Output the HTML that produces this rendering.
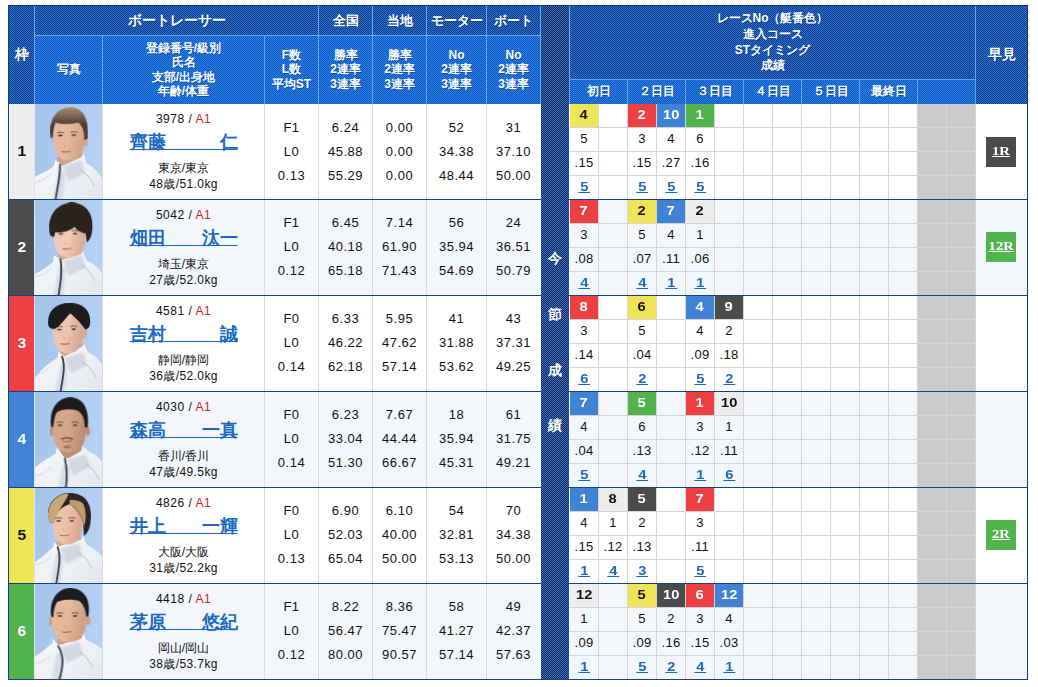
<!DOCTYPE html>
<html lang="ja"><head><meta charset="utf-8"><title>出走表</title>
<style>
html,body{margin:0;padding:0;}
body{width:1038px;height:687px;position:relative;overflow:hidden;background:#fff;
 font-family:"Liberation Sans",sans-serif;color:#111;}
#t div{position:absolute;box-sizing:border-box;}
#t .info div{position:static;}
.hd{background:conic-gradient(#05398b 25%,#3474cc 0 50%,#05398b 0 75%,#3474cc 0) 0 0/2px 2px;}
.hl{background:conic-gradient(#0b55bb 25%,#2f83ea 0 50%,#0b55bb 0 75%,#2f83ea 0) 0 0/2px 2px;}
.dk{background:conic-gradient(#042b68 25%,#3d6fb5 0 50%,#042b68 0 75%,#3d6fb5 0) 0 0/2px 2px;}
.ht{color:#fff;font-weight:bold;text-align:center;display:flex;align-items:center;justify-content:center;
 text-shadow:1px 1px 0 rgba(0,30,90,.35);}
.c{text-align:center;}
.st{text-align:center;font-size:13px;line-height:24px;padding-top:12px;letter-spacing:.5px;}
.w{display:inline-block;transform:scaleX(1.13);}
.info{text-align:center;font-size:12px;}
.info .l1{line-height:16px;padding-top:7px;letter-spacing:.5px;}
.a1{color:#cc2229;}
.info .nm{font-size:18px;font-weight:bold;line-height:24px;padding-top:3px;}
a{color:#1a6ac4;text-decoration:underline;}
.info .l3{line-height:16px;padding-top:6px;}
.info .l4{line-height:16px;letter-spacing:.4px;}
.rn{font-weight:bold;font-size:13px;line-height:21px;}
.dv{font-size:13px;line-height:21px;letter-spacing:.3px;}
.rs{font-weight:bold;font-size:13px;line-height:21px;word-spacing:-2px;}
.rs a{text-underline-offset:1px;}
.hy{font-family:"Liberation Serif",serif;font-weight:bold;font-size:13px;line-height:28px;}
.hy a{color:#fff;}
svg{display:block;}
</style></head>
<body><div id="t">
<div class="hd" style="left:8px;top:5px;width:1020px;height:99px;"></div>
<div class="hl" style="left:35px;top:36px;width:506px;height:68px;"></div>
<div class="hl" style="left:570px;top:80px;width:406px;height:24px;"></div>
<div class="dk" style="left:541px;top:5px;width:28px;height:675px;"></div>
<div style="left:34px;top:6px;width:1px;height:98px;background:#6aa3ea;"></div>
<div style="left:35px;top:35px;width:506px;height:1px;background:#6aa3ea;"></div>
<div style="left:102px;top:36px;width:1px;height:68px;background:#6aa3ea;"></div>
<div style="left:264px;top:36px;width:1px;height:68px;background:#6aa3ea;"></div>
<div style="left:318px;top:6px;width:1px;height:98px;background:#6aa3ea;"></div>
<div style="left:372px;top:6px;width:1px;height:98px;background:#6aa3ea;"></div>
<div style="left:426px;top:6px;width:1px;height:98px;background:#6aa3ea;"></div>
<div style="left:486px;top:6px;width:1px;height:98px;background:#6aa3ea;"></div>
<div style="left:540px;top:6px;width:1px;height:98px;background:#6aa3ea;"></div>
<div style="left:569px;top:6px;width:1px;height:98px;background:#6aa3ea;"></div>
<div style="left:570px;top:79px;width:406px;height:1px;background:#6aa3ea;"></div>
<div style="left:627px;top:80px;width:1px;height:24px;background:#6aa3ea;"></div>
<div style="left:685px;top:80px;width:1px;height:24px;background:#6aa3ea;"></div>
<div style="left:743px;top:80px;width:1px;height:24px;background:#6aa3ea;"></div>
<div style="left:801px;top:80px;width:1px;height:24px;background:#6aa3ea;"></div>
<div style="left:859px;top:80px;width:1px;height:24px;background:#6aa3ea;"></div>
<div style="left:917px;top:80px;width:1px;height:24px;background:#6aa3ea;"></div>
<div style="left:975px;top:80px;width:1px;height:24px;background:#6aa3ea;"></div>
<div style="left:975px;top:6px;width:1px;height:98px;background:#6aa3ea;"></div>
<div class="ht" style="left:9px;top:6px;width:25px;height:97px;font-size:14px;line-height:14.5px;"><span>枠</span></div>
<div class="ht" style="left:35px;top:5px;width:283px;height:30px;font-size:14px;line-height:14.5px;"><span>ボートレーサー</span></div>
<div class="ht" style="left:319px;top:6px;width:53px;height:30px;font-size:13px;line-height:14.5px;"><span>全国</span></div>
<div class="ht" style="left:373px;top:6px;width:53px;height:30px;font-size:13px;line-height:14.5px;"><span>当地</span></div>
<div class="ht" style="left:427px;top:6px;width:59px;height:30px;font-size:13px;line-height:14.5px;"><span>モーター</span></div>
<div class="ht" style="left:487px;top:6px;width:53px;height:30px;font-size:13px;line-height:14.5px;"><span>ボート</span></div>
<div class="ht" style="left:35px;top:36px;width:67px;height:67px;font-size:12px;line-height:14.5px;"><span>写真</span></div>
<div class="ht" style="left:103px;top:36px;width:161px;height:67px;font-size:12px;line-height:14.5px;"><span>登録番号/級別<br>氏名<br>支部/出身地<br>年齢/体重</span></div>
<div class="ht" style="left:265px;top:36px;width:53px;height:67px;font-size:12px;line-height:14.5px;"><span>F数<br>L数<br>平均ST</span></div>
<div class="ht" style="left:319px;top:36px;width:53px;height:67px;font-size:12px;line-height:14.5px;"><span>勝率<br>2連率<br>3連率</span></div>
<div class="ht" style="left:373px;top:36px;width:53px;height:67px;font-size:12px;line-height:14.5px;"><span>勝率<br>2連率<br>3連率</span></div>
<div class="ht" style="left:427px;top:36px;width:59px;height:67px;font-size:12px;line-height:14.5px;"><span>No<br>2連率<br>3連率</span></div>
<div class="ht" style="left:487px;top:36px;width:53px;height:67px;font-size:12px;line-height:14.5px;"><span>No<br>2連率<br>3連率</span></div>
<div class="ht" style="left:570px;top:6px;width:405px;height:73px;font-size:12px;line-height:15.7px;"><span>レースNo（艇番色）<br>進入コース<br>STタイミング<br>成績</span></div>
<div class="ht" style="left:570px;top:80px;width:57px;height:23px;font-size:12px;line-height:14.5px;"><span>初日</span></div>
<div class="ht" style="left:628px;top:80px;width:57px;height:23px;font-size:12px;line-height:14.5px;"><span>２日目</span></div>
<div class="ht" style="left:686px;top:80px;width:57px;height:23px;font-size:12px;line-height:14.5px;"><span>３日目</span></div>
<div class="ht" style="left:744px;top:80px;width:57px;height:23px;font-size:12px;line-height:14.5px;"><span>４日目</span></div>
<div class="ht" style="left:802px;top:80px;width:57px;height:23px;font-size:12px;line-height:14.5px;"><span>５日目</span></div>
<div class="ht" style="left:860px;top:80px;width:57px;height:23px;font-size:12px;line-height:14.5px;"><span>最終日</span></div>
<div class="ht" style="left:976px;top:6px;width:51px;height:97px;font-size:14px;line-height:14.5px;"><span>早見</span></div>
<div class="ht" style="left:541px;top:248px;width:28px;height:20px;font-size:14px;line-height:20px;"><span>今</span></div>
<div class="ht" style="left:541px;top:304px;width:28px;height:20px;font-size:14px;line-height:20px;"><span>節</span></div>
<div class="ht" style="left:541px;top:360px;width:28px;height:20px;font-size:14px;line-height:20px;"><span>成</span></div>
<div class="ht" style="left:541px;top:415px;width:28px;height:20px;font-size:14px;line-height:20px;"><span>績</span></div>
<div style="left:9px;top:104px;width:532px;height:95px;background:#fff;"></div>
<div style="left:569px;top:104px;width:458px;height:95px;background:#fff;"></div>
<div class="c" style="left:9px;top:104px;width:25px;height:95px;background:#ededed;color:#111;font-weight:bold;font-size:14px;line-height:95px;"><span class="w">1</span></div>
<div style="left:35px;top:104px;width:67px;height:95px;"><svg width="67" height="95" viewBox="0 0 67 95"><defs><linearGradient id="bg0" x1="0" y1="0" x2="1" y2="0.3"><stop offset="0" stop-color="#a3c3ea"/><stop offset="1" stop-color="#b5d0f1"/></linearGradient><linearGradient id="h0" x1="0" y1="0" x2="0" y2="1"><stop offset="0" stop-color="#a48c70"/><stop offset=".55" stop-color="#4c3b32"/></linearGradient><linearGradient id="jk0" x1="0" y1="0" x2="1" y2="1"><stop offset="0" stop-color="#f7f8fb"/><stop offset=".6" stop-color="#eef0f5"/><stop offset="1" stop-color="#dfe3ec"/></linearGradient><linearGradient id="fc0" x1="0" y1="0" x2="1" y2="0.25"><stop offset="0" stop-color="#e5baa0"/><stop offset=".55" stop-color="#e5baa0"/><stop offset="1" stop-color="#d3a386"/></linearGradient><filter id="bl0" x="-5%" y="-5%" width="110%" height="110%"><feGaussianBlur stdDeviation="3.4"/></filter><filter id="bs0" x="-20%" y="-20%" width="140%" height="140%"><feGaussianBlur stdDeviation="9"/></filter></defs><rect width="67" height="95" fill="url(#bg0)"/><g transform="translate(-1,-1) scale(0.14265)"><g filter="url(#bl0)"><polygon points="180,330 335,330 338,392 200,447 158,402" fill="#d3a386"/><path d="M0,520 C60,492 110,470 140,440 L150,398 L200,440 L330,380 L350,358 L366,420 C420,450 470,500 491,560 L491,687 L0,687 Z" fill="url(#jk0)"/></g><g filter="url(#bs0)" opacity=".55"><path d="M202,442 L332,402 L357,492 L242,552 Z" fill="#bcc3d3"/><path d="M172,472 L222,492 L202,687 L132,687 Z" fill="#c6ccda"/></g><g filter="url(#bl0)"><path d="M332,472 q60,40 90,110" stroke="#9aa1b2" stroke-width="5" fill="none" opacity=".8"/><path d="M10,557 q60,-10 110,-60" stroke="#aab0c0" stroke-width="4" fill="none" opacity=".7"/><path d="M182,432 C186,520 160,600 150,687" stroke="#39424f" stroke-width="13" fill="none" stroke-linecap="round"/><ellipse cx="362" cy="272" rx="15" ry="30" fill="#d3a386"/><path d="M133,222 C133,62 357,62 357,222 C357,360 312,402 245,402 C178,402 133,360 133,222 Z" fill="url(#fc0)"/><path d="M118,242 C100,120 150,35 250,30 C340,28 388,100 376,252 L350,258 C356,200 340,160 310,138 C260,150 185,150 152,138 C135,170 135,210 130,246 Z" fill="url(#h0)"/><ellipse cx="185" cy="228" rx="17" ry="5.5" fill="#2a1d18" opacity=".9"/><path d="M161,209 Q185,200 209,209" stroke="#3a2a22" stroke-width="7" fill="none" opacity=".7"/><ellipse cx="278" cy="225" rx="17" ry="5.5" fill="#2a1d18" opacity=".9"/><path d="M254,206 Q278,197 302,206" stroke="#3a2a22" stroke-width="7" fill="none" opacity=".7"/><path d="M192,340 Q222,348 256,338" stroke="#b2604f" stroke-width="8" fill="none" opacity=".9"/><path d="M214,292 q-6,14 10,16" stroke="#d3a386" stroke-width="8" fill="none"/></g></g></svg></div>
<div class="info" style="left:103px;top:104px;width:161px;height:95px;"><div class="l1">3978 / <span class="a1">A1</span></div><div class="nm"><a>齊藤　　　仁</a></div><div class="l3">東京/東京</div><div class="l4">48歳/51.0kg</div></div>
<div class="st" style="left:265px;top:104px;width:53px;height:95px;">F1<br>L0<br>0.13</div>
<div class="st" style="left:319px;top:104px;width:53px;height:95px;">6.24<br>45.88<br>55.29</div>
<div class="st" style="left:373px;top:104px;width:53px;height:95px;">0.00<br>0.00<br>0.00</div>
<div class="st" style="left:427px;top:104px;width:59px;height:95px;">52<br>34.38<br>48.44</div>
<div class="st" style="left:487px;top:104px;width:53px;height:95px;">31<br>37.10<br>50.00</div>
<div style="left:102px;top:104px;width:1px;height:95px;background:#d5dae3;"></div>
<div style="left:264px;top:104px;width:1px;height:95px;background:#d5dae3;"></div>
<div style="left:318px;top:104px;width:1px;height:95px;background:#d5dae3;"></div>
<div style="left:372px;top:104px;width:1px;height:95px;background:#d5dae3;"></div>
<div style="left:426px;top:104px;width:1px;height:95px;background:#d5dae3;"></div>
<div style="left:486px;top:104px;width:1px;height:95px;background:#d5dae3;"></div>
<div style="left:34px;top:104px;width:1px;height:95px;background:#e2e4e8;"></div>
<div style="left:918px;top:104px;width:58px;height:95px;background:#cbcbcb;"></div>
<div style="left:570px;top:127px;width:406px;height:1px;background:#d4d4d4;"></div>
<div style="left:570px;top:151px;width:406px;height:1px;background:#d4d4d4;"></div>
<div style="left:570px;top:175px;width:406px;height:1px;background:#d4d4d4;"></div>
<div style="left:598px;top:104px;width:1px;height:95px;background:#d4d4d4;"></div>
<div style="left:627px;top:104px;width:1px;height:95px;background:#d4d4d4;"></div>
<div style="left:656px;top:104px;width:1px;height:95px;background:#d4d4d4;"></div>
<div style="left:685px;top:104px;width:1px;height:95px;background:#d4d4d4;"></div>
<div style="left:714px;top:104px;width:1px;height:95px;background:#d4d4d4;"></div>
<div style="left:743px;top:104px;width:1px;height:95px;background:#d4d4d4;"></div>
<div style="left:772px;top:104px;width:1px;height:95px;background:#d4d4d4;"></div>
<div style="left:801px;top:104px;width:1px;height:95px;background:#d4d4d4;"></div>
<div style="left:830px;top:104px;width:1px;height:95px;background:#d4d4d4;"></div>
<div style="left:859px;top:104px;width:1px;height:95px;background:#d4d4d4;"></div>
<div style="left:888px;top:104px;width:1px;height:95px;background:#d4d4d4;"></div>
<div style="left:917px;top:104px;width:1px;height:95px;background:#d4d4d4;"></div>
<div style="left:946px;top:104px;width:1px;height:95px;background:#d4d4d4;"></div>
<div style="left:975px;top:104px;width:1px;height:95px;background:#d4d4d4;"></div>
<div class="c rn" style="left:570px;top:104px;width:28px;height:23px;background:#efe455;color:#111;"><span class="w">4</span></div>
<div class="c dv" style="left:570px;top:128px;width:28px;height:23px;">5</div>
<div class="c dv" style="left:570px;top:152px;width:28px;height:23px;">.15</div>
<div class="c rs" style="left:570px;top:176px;width:28px;height:23px;"><a class="w">&nbsp;5&nbsp;</a></div>
<div class="c rn" style="left:628px;top:104px;width:28px;height:23px;background:#ee4043;color:#fff;"><span class="w">2</span></div>
<div class="c dv" style="left:628px;top:128px;width:28px;height:23px;">3</div>
<div class="c dv" style="left:628px;top:152px;width:28px;height:23px;">.15</div>
<div class="c rs" style="left:628px;top:176px;width:28px;height:23px;"><a class="w">&nbsp;5&nbsp;</a></div>
<div class="c rn" style="left:657px;top:104px;width:28px;height:23px;background:#4082d3;color:#fff;"><span class="w">10</span></div>
<div class="c dv" style="left:657px;top:128px;width:28px;height:23px;">4</div>
<div class="c dv" style="left:657px;top:152px;width:28px;height:23px;">.27</div>
<div class="c rs" style="left:657px;top:176px;width:28px;height:23px;"><a class="w">&nbsp;5&nbsp;</a></div>
<div class="c rn" style="left:686px;top:104px;width:28px;height:23px;background:#52b44c;color:#fff;"><span class="w">1</span></div>
<div class="c dv" style="left:686px;top:128px;width:28px;height:23px;">6</div>
<div class="c dv" style="left:686px;top:152px;width:28px;height:23px;">.16</div>
<div class="c rs" style="left:686px;top:176px;width:28px;height:23px;"><a class="w">&nbsp;5&nbsp;</a></div>
<div class="c hy" style="left:986px;top:137px;width:30px;height:30px;background:#4b4b4b;"><a class="w">1R</a></div>
<div style="left:9px;top:199px;width:532px;height:1px;background:#17437c;"></div>
<div style="left:569px;top:199px;width:458px;height:1px;background:#17437c;"></div>
<div style="left:9px;top:200px;width:532px;height:95px;background:#f3f7fc;"></div>
<div style="left:569px;top:200px;width:458px;height:95px;background:#f3f7fc;"></div>
<div class="c" style="left:9px;top:200px;width:25px;height:95px;background:#4b4b4b;color:#fff;font-weight:bold;font-size:14px;line-height:95px;"><span class="w">2</span></div>
<div style="left:35px;top:200px;width:67px;height:95px;"><svg width="67" height="95" viewBox="0 0 67 95"><defs><linearGradient id="bg1" x1="0" y1="0" x2="1" y2="0.3"><stop offset="0" stop-color="#a3c3ea"/><stop offset="1" stop-color="#b5d0f1"/></linearGradient><linearGradient id="jk1" x1="0" y1="0" x2="1" y2="1"><stop offset="0" stop-color="#f7f8fb"/><stop offset=".6" stop-color="#eef0f5"/><stop offset="1" stop-color="#dfe3ec"/></linearGradient><linearGradient id="fc1" x1="0" y1="0" x2="1" y2="0.25"><stop offset="0" stop-color="#efcab4"/><stop offset=".55" stop-color="#efcab4"/><stop offset="1" stop-color="#dcae95"/></linearGradient><filter id="bl1" x="-5%" y="-5%" width="110%" height="110%"><feGaussianBlur stdDeviation="3.4"/></filter><filter id="bs1" x="-20%" y="-20%" width="140%" height="140%"><feGaussianBlur stdDeviation="9"/></filter></defs><rect width="67" height="95" fill="url(#bg1)"/><g transform="translate(-1,-1) scale(0.14265)"><g filter="url(#bl1)"><polygon points="190,360 330,360 332,402 215,442 168,402" fill="#dcae95"/><path d="M0,530 C60,500 100,470 135,440 L140,395 L195,427 L330,385 L346,368 L366,430 C420,450 470,500 491,540 L491,687 L0,687 Z" fill="url(#jk1)"/></g><g filter="url(#bs1)" opacity=".55"><path d="M205,432 L335,392 L360,482 L245,542 Z" fill="#bcc3d3"/><path d="M175,462 L225,482 L205,687 L135,687 Z" fill="#c6ccda"/></g><g filter="url(#bl1)"><path d="M335,462 q60,40 90,110" stroke="#9aa1b2" stroke-width="5" fill="none" opacity=".8"/><path d="M10,547 q60,-10 110,-60" stroke="#aab0c0" stroke-width="4" fill="none" opacity=".7"/><path d="M185,422 C202,500 186,600 170,687" stroke="#39424f" stroke-width="13" fill="none" stroke-linecap="round"/><path d="M140,257 C140,123 360,123 360,257 C360,372 316,407 250,407 C184,407 140,372 140,257 Z" fill="url(#fc1)"/><path d="M112,252 C92,150 128,40 262,24 C384,30 424,130 406,232 C400,272 386,292 370,302 L362,242 C330,236 300,216 285,195 C250,226 190,238 150,232 L140,268 C130,264 118,260 112,252 Z" fill="#2b201d"/><ellipse cx="188" cy="245" rx="17" ry="5.5" fill="#2a1d18" opacity=".9"/><path d="M164,226 Q188,217 212,226" stroke="#3a2a22" stroke-width="7" fill="none" opacity=".7"/><ellipse cx="288" cy="243" rx="17" ry="5.5" fill="#2a1d18" opacity=".9"/><path d="M264,224 Q288,215 312,224" stroke="#3a2a22" stroke-width="7" fill="none" opacity=".7"/><path d="M200,347 Q230,355 264,345" stroke="#b2604f" stroke-width="8" fill="none" opacity=".9"/><path d="M222,299 q-6,14 10,16" stroke="#dcae95" stroke-width="8" fill="none"/></g></g></svg></div>
<div class="info" style="left:103px;top:200px;width:161px;height:95px;"><div class="l1">5042 / <span class="a1">A1</span></div><div class="nm"><a>畑田　　汰一</a></div><div class="l3">埼玉/東京</div><div class="l4">27歳/52.0kg</div></div>
<div class="st" style="left:265px;top:200px;width:53px;height:95px;padding-top:11px;">F1<br>L0<br>0.12</div>
<div class="st" style="left:319px;top:200px;width:53px;height:95px;padding-top:11px;">6.45<br>40.18<br>65.18</div>
<div class="st" style="left:373px;top:200px;width:53px;height:95px;padding-top:11px;">7.14<br>61.90<br>71.43</div>
<div class="st" style="left:427px;top:200px;width:59px;height:95px;padding-top:11px;">56<br>35.94<br>54.69</div>
<div class="st" style="left:487px;top:200px;width:53px;height:95px;padding-top:11px;">24<br>36.51<br>50.79</div>
<div style="left:102px;top:200px;width:1px;height:95px;background:#d5dae3;"></div>
<div style="left:264px;top:200px;width:1px;height:95px;background:#d5dae3;"></div>
<div style="left:318px;top:200px;width:1px;height:95px;background:#d5dae3;"></div>
<div style="left:372px;top:200px;width:1px;height:95px;background:#d5dae3;"></div>
<div style="left:426px;top:200px;width:1px;height:95px;background:#d5dae3;"></div>
<div style="left:486px;top:200px;width:1px;height:95px;background:#d5dae3;"></div>
<div style="left:34px;top:200px;width:1px;height:95px;background:#dbe6f4;"></div>
<div style="left:918px;top:200px;width:58px;height:95px;background:#cbcbcb;"></div>
<div style="left:570px;top:223px;width:406px;height:1px;background:#d4d4d4;"></div>
<div style="left:570px;top:247px;width:406px;height:1px;background:#d4d4d4;"></div>
<div style="left:570px;top:271px;width:406px;height:1px;background:#d4d4d4;"></div>
<div style="left:598px;top:200px;width:1px;height:95px;background:#d4d4d4;"></div>
<div style="left:627px;top:200px;width:1px;height:95px;background:#d4d4d4;"></div>
<div style="left:656px;top:200px;width:1px;height:95px;background:#d4d4d4;"></div>
<div style="left:685px;top:200px;width:1px;height:95px;background:#d4d4d4;"></div>
<div style="left:714px;top:200px;width:1px;height:95px;background:#d4d4d4;"></div>
<div style="left:743px;top:200px;width:1px;height:95px;background:#d4d4d4;"></div>
<div style="left:772px;top:200px;width:1px;height:95px;background:#d4d4d4;"></div>
<div style="left:801px;top:200px;width:1px;height:95px;background:#d4d4d4;"></div>
<div style="left:830px;top:200px;width:1px;height:95px;background:#d4d4d4;"></div>
<div style="left:859px;top:200px;width:1px;height:95px;background:#d4d4d4;"></div>
<div style="left:888px;top:200px;width:1px;height:95px;background:#d4d4d4;"></div>
<div style="left:917px;top:200px;width:1px;height:95px;background:#d4d4d4;"></div>
<div style="left:946px;top:200px;width:1px;height:95px;background:#d4d4d4;"></div>
<div style="left:975px;top:200px;width:1px;height:95px;background:#d4d4d4;"></div>
<div class="c rn" style="left:570px;top:200px;width:28px;height:23px;background:#ee4043;color:#fff;"><span class="w">7</span></div>
<div class="c dv" style="left:570px;top:224px;width:28px;height:23px;">3</div>
<div class="c dv" style="left:570px;top:248px;width:28px;height:23px;">.08</div>
<div class="c rs" style="left:570px;top:272px;width:28px;height:23px;"><a class="w">&nbsp;4&nbsp;</a></div>
<div class="c rn" style="left:628px;top:200px;width:28px;height:23px;background:#efe455;color:#111;"><span class="w">2</span></div>
<div class="c dv" style="left:628px;top:224px;width:28px;height:23px;">5</div>
<div class="c dv" style="left:628px;top:248px;width:28px;height:23px;">.07</div>
<div class="c rs" style="left:628px;top:272px;width:28px;height:23px;"><a class="w">&nbsp;4&nbsp;</a></div>
<div class="c rn" style="left:657px;top:200px;width:28px;height:23px;background:#4082d3;color:#fff;"><span class="w">7</span></div>
<div class="c dv" style="left:657px;top:224px;width:28px;height:23px;">4</div>
<div class="c dv" style="left:657px;top:248px;width:28px;height:23px;">.11</div>
<div class="c rs" style="left:657px;top:272px;width:28px;height:23px;"><a class="w">&nbsp;1&nbsp;</a></div>
<div class="c rn" style="left:686px;top:200px;width:28px;height:23px;background:#ededed;color:#111;"><span class="w">2</span></div>
<div class="c dv" style="left:686px;top:224px;width:28px;height:23px;">1</div>
<div class="c dv" style="left:686px;top:248px;width:28px;height:23px;">.06</div>
<div class="c rs" style="left:686px;top:272px;width:28px;height:23px;"><a class="w">&nbsp;1&nbsp;</a></div>
<div class="c hy" style="left:986px;top:232px;width:30px;height:30px;background:#52b44c;"><a class="w">12R</a></div>
<div style="left:9px;top:295px;width:532px;height:1px;background:#17437c;"></div>
<div style="left:569px;top:295px;width:458px;height:1px;background:#17437c;"></div>
<div style="left:9px;top:296px;width:532px;height:95px;background:#fff;"></div>
<div style="left:569px;top:296px;width:458px;height:95px;background:#fff;"></div>
<div class="c" style="left:9px;top:296px;width:25px;height:95px;background:#ee4043;color:#fff;font-weight:bold;font-size:14px;line-height:95px;"><span class="w">3</span></div>
<div style="left:35px;top:296px;width:67px;height:95px;"><svg width="67" height="95" viewBox="0 0 67 95"><defs><linearGradient id="bg2" x1="0" y1="0" x2="1" y2="0.3"><stop offset="0" stop-color="#a3c3ea"/><stop offset="1" stop-color="#b5d0f1"/></linearGradient><linearGradient id="jk2" x1="0" y1="0" x2="1" y2="1"><stop offset="0" stop-color="#f7f8fb"/><stop offset=".6" stop-color="#eef0f5"/><stop offset="1" stop-color="#dfe3ec"/></linearGradient><linearGradient id="fc2" x1="0" y1="0" x2="1" y2="0.25"><stop offset="0" stop-color="#ebc5b0"/><stop offset=".55" stop-color="#ebc5b0"/><stop offset="1" stop-color="#d8a992"/></linearGradient><filter id="bl2" x="-5%" y="-5%" width="110%" height="110%"><feGaussianBlur stdDeviation="3.4"/></filter><filter id="bs2" x="-20%" y="-20%" width="140%" height="140%"><feGaussianBlur stdDeviation="9"/></filter></defs><rect width="67" height="95" fill="url(#bg2)"/><g transform="translate(-1,-1) scale(0.14265)"><g filter="url(#bl2)"><polygon points="200,350 340,330 346,372 230,442 184,412" fill="#d8a992"/><path d="M0,590 C40,530 100,480 165,440 L170,398 L215,432 L340,360 L353,343 L376,400 C430,420 476,470 491,520 L491,687 L0,687 Z" fill="url(#jk2)"/></g><g filter="url(#bs2)" opacity=".55"><path d="M216,442 L346,402 L371,492 L256,552 Z" fill="#bcc3d3"/><path d="M186,472 L236,492 L216,687 L146,687 Z" fill="#c6ccda"/></g><g filter="url(#bl2)"><path d="M346,472 q60,40 90,110" stroke="#9aa1b2" stroke-width="5" fill="none" opacity=".8"/><path d="M10,557 q60,-10 110,-60" stroke="#aab0c0" stroke-width="4" fill="none" opacity=".7"/><path d="M196,432 C226,500 196,600 185,687" stroke="#39424f" stroke-width="13" fill="none" stroke-linecap="round"/><ellipse cx="356" cy="272" rx="15" ry="30" fill="#d8a992"/><path d="M132,233 C132,77 348,77 348,233 C348,367 305,408 240,408 C175,408 132,367 132,233 Z" fill="url(#fc2)"/><path d="M100,212 C88,110 160,54 250,58 C342,54 402,110 393,200 C391,226 376,238 360,242 C332,200 292,160 256,128 C226,150 200,200 150,236 C124,242 104,232 100,212 Z" fill="#1e1b1d"/><ellipse cx="178" cy="243" rx="17" ry="5.5" fill="#2a1d18" opacity=".9"/><path d="M154,224 Q178,215 202,224" stroke="#3a2a22" stroke-width="7" fill="none" opacity=".7"/><ellipse cx="278" cy="240" rx="17" ry="5.5" fill="#2a1d18" opacity=".9"/><path d="M254,221 Q278,212 302,221" stroke="#3a2a22" stroke-width="7" fill="none" opacity=".7"/><path d="M186,342 Q216,350 250,340" stroke="#b2604f" stroke-width="8" fill="none" opacity=".9"/><path d="M208,294 q-6,14 10,16" stroke="#d8a992" stroke-width="8" fill="none"/></g></g></svg></div>
<div class="info" style="left:103px;top:296px;width:161px;height:95px;"><div class="l1">4581 / <span class="a1">A1</span></div><div class="nm"><a>吉村　　　誠</a></div><div class="l3">静岡/静岡</div><div class="l4">36歳/52.0kg</div></div>
<div class="st" style="left:265px;top:296px;width:53px;height:95px;padding-top:11px;">F0<br>L0<br>0.14</div>
<div class="st" style="left:319px;top:296px;width:53px;height:95px;padding-top:11px;">6.33<br>46.22<br>62.18</div>
<div class="st" style="left:373px;top:296px;width:53px;height:95px;padding-top:11px;">5.95<br>47.62<br>57.14</div>
<div class="st" style="left:427px;top:296px;width:59px;height:95px;padding-top:11px;">41<br>31.88<br>53.62</div>
<div class="st" style="left:487px;top:296px;width:53px;height:95px;padding-top:11px;">43<br>37.31<br>49.25</div>
<div style="left:102px;top:296px;width:1px;height:95px;background:#d5dae3;"></div>
<div style="left:264px;top:296px;width:1px;height:95px;background:#d5dae3;"></div>
<div style="left:318px;top:296px;width:1px;height:95px;background:#d5dae3;"></div>
<div style="left:372px;top:296px;width:1px;height:95px;background:#d5dae3;"></div>
<div style="left:426px;top:296px;width:1px;height:95px;background:#d5dae3;"></div>
<div style="left:486px;top:296px;width:1px;height:95px;background:#d5dae3;"></div>
<div style="left:34px;top:296px;width:1px;height:95px;background:#dbe6f4;"></div>
<div style="left:918px;top:296px;width:58px;height:95px;background:#cbcbcb;"></div>
<div style="left:570px;top:319px;width:406px;height:1px;background:#d4d4d4;"></div>
<div style="left:570px;top:343px;width:406px;height:1px;background:#d4d4d4;"></div>
<div style="left:570px;top:367px;width:406px;height:1px;background:#d4d4d4;"></div>
<div style="left:598px;top:296px;width:1px;height:95px;background:#d4d4d4;"></div>
<div style="left:627px;top:296px;width:1px;height:95px;background:#d4d4d4;"></div>
<div style="left:656px;top:296px;width:1px;height:95px;background:#d4d4d4;"></div>
<div style="left:685px;top:296px;width:1px;height:95px;background:#d4d4d4;"></div>
<div style="left:714px;top:296px;width:1px;height:95px;background:#d4d4d4;"></div>
<div style="left:743px;top:296px;width:1px;height:95px;background:#d4d4d4;"></div>
<div style="left:772px;top:296px;width:1px;height:95px;background:#d4d4d4;"></div>
<div style="left:801px;top:296px;width:1px;height:95px;background:#d4d4d4;"></div>
<div style="left:830px;top:296px;width:1px;height:95px;background:#d4d4d4;"></div>
<div style="left:859px;top:296px;width:1px;height:95px;background:#d4d4d4;"></div>
<div style="left:888px;top:296px;width:1px;height:95px;background:#d4d4d4;"></div>
<div style="left:917px;top:296px;width:1px;height:95px;background:#d4d4d4;"></div>
<div style="left:946px;top:296px;width:1px;height:95px;background:#d4d4d4;"></div>
<div style="left:975px;top:296px;width:1px;height:95px;background:#d4d4d4;"></div>
<div class="c rn" style="left:570px;top:296px;width:28px;height:23px;background:#ee4043;color:#fff;"><span class="w">8</span></div>
<div class="c dv" style="left:570px;top:320px;width:28px;height:23px;">3</div>
<div class="c dv" style="left:570px;top:344px;width:28px;height:23px;">.14</div>
<div class="c rs" style="left:570px;top:368px;width:28px;height:23px;"><a class="w">&nbsp;6&nbsp;</a></div>
<div class="c rn" style="left:628px;top:296px;width:28px;height:23px;background:#efe455;color:#111;"><span class="w">6</span></div>
<div class="c dv" style="left:628px;top:320px;width:28px;height:23px;">5</div>
<div class="c dv" style="left:628px;top:344px;width:28px;height:23px;">.04</div>
<div class="c rs" style="left:628px;top:368px;width:28px;height:23px;"><a class="w">&nbsp;2&nbsp;</a></div>
<div class="c rn" style="left:686px;top:296px;width:28px;height:23px;background:#4082d3;color:#fff;"><span class="w">4</span></div>
<div class="c dv" style="left:686px;top:320px;width:28px;height:23px;">4</div>
<div class="c dv" style="left:686px;top:344px;width:28px;height:23px;">.09</div>
<div class="c rs" style="left:686px;top:368px;width:28px;height:23px;"><a class="w">&nbsp;5&nbsp;</a></div>
<div class="c rn" style="left:715px;top:296px;width:28px;height:23px;background:#4b4b4b;color:#fff;"><span class="w">9</span></div>
<div class="c dv" style="left:715px;top:320px;width:28px;height:23px;">2</div>
<div class="c dv" style="left:715px;top:344px;width:28px;height:23px;">.18</div>
<div class="c rs" style="left:715px;top:368px;width:28px;height:23px;"><a class="w">&nbsp;2&nbsp;</a></div>
<div style="left:9px;top:391px;width:532px;height:1px;background:#17437c;"></div>
<div style="left:569px;top:391px;width:458px;height:1px;background:#17437c;"></div>
<div style="left:9px;top:392px;width:532px;height:95px;background:#f3f7fc;"></div>
<div style="left:569px;top:392px;width:458px;height:95px;background:#f3f7fc;"></div>
<div class="c" style="left:9px;top:392px;width:25px;height:95px;background:#4082d3;color:#fff;font-weight:bold;font-size:14px;line-height:95px;"><span class="w">4</span></div>
<div style="left:35px;top:392px;width:67px;height:95px;"><svg width="67" height="95" viewBox="0 0 67 95"><defs><linearGradient id="bg3" x1="0" y1="0" x2="1" y2="0.3"><stop offset="0" stop-color="#a3c3ea"/><stop offset="1" stop-color="#b5d0f1"/></linearGradient><linearGradient id="jk3" x1="0" y1="0" x2="1" y2="1"><stop offset="0" stop-color="#f7f8fb"/><stop offset=".6" stop-color="#eef0f5"/><stop offset="1" stop-color="#dfe3ec"/></linearGradient><linearGradient id="fc3" x1="0" y1="0" x2="1" y2="0.25"><stop offset="0" stop-color="#d4a78c"/><stop offset=".55" stop-color="#d4a78c"/><stop offset="1" stop-color="#bd8e72"/></linearGradient><filter id="bl3" x="-5%" y="-5%" width="110%" height="110%"><feGaussianBlur stdDeviation="3.4"/></filter><filter id="bs3" x="-20%" y="-20%" width="140%" height="140%"><feGaussianBlur stdDeviation="9"/></filter></defs><rect width="67" height="95" fill="url(#bg3)"/><g transform="translate(-1,-1) scale(0.14265)"><g filter="url(#bl3)"><polygon points="180,400 332,400 332,442 240,482 188,452" fill="#bd8e72"/><path d="M0,540 C50,500 100,470 150,440 L160,398 L215,466 L240,472 L330,420 L346,383 L376,420 C430,440 476,480 491,520 L491,687 L0,687 Z" fill="url(#jk3)"/></g><g filter="url(#bs3)" opacity=".55"><path d="M236,482 L366,442 L391,532 L276,592 Z" fill="#bcc3d3"/><path d="M206,512 L256,532 L236,687 L166,687 Z" fill="#c6ccda"/></g><g filter="url(#bl3)"><path d="M366,512 q60,40 90,110" stroke="#9aa1b2" stroke-width="5" fill="none" opacity=".8"/><path d="M10,597 q60,-10 110,-60" stroke="#aab0c0" stroke-width="4" fill="none" opacity=".7"/><path d="M216,472 C232,540 232,620 222,687" stroke="#39424f" stroke-width="13" fill="none" stroke-linecap="round"/><ellipse cx="124" cy="284" rx="15" ry="30" fill="#bd8e72"/><ellipse cx="377" cy="284" rx="15" ry="30" fill="#bd8e72"/><path d="M130,240 C130,71 366,71 366,240 C366,386 319,430 248,430 C177,430 130,386 130,240 Z" fill="url(#fc3)"/><path d="M120,252 C104,130 160,50 250,44 C342,44 392,120 376,258 L356,252 C356,195 338,152 300,136 C250,122 190,126 160,150 C142,180 140,215 135,252 Z" fill="#1f1b1a"/><path d="M190,338 Q230,318 272,338" stroke="#4a3328" stroke-width="12" fill="none" opacity=".75"/><ellipse cx="232" cy="392" rx="26" ry="12" fill="#5a4236" opacity=".45"/><ellipse cx="183" cy="240" rx="17" ry="5.5" fill="#2a1d18" opacity=".9"/><path d="M159,221 Q183,212 207,221" stroke="#3a2a22" stroke-width="7" fill="none" opacity=".7"/><ellipse cx="288" cy="240" rx="17" ry="5.5" fill="#2a1d18" opacity=".9"/><path d="M264,221 Q288,212 312,221" stroke="#3a2a22" stroke-width="7" fill="none" opacity=".7"/><path d="M200,352 Q230,360 264,350" stroke="#b2604f" stroke-width="8" fill="none" opacity=".9"/><path d="M222,304 q-6,14 10,16" stroke="#bd8e72" stroke-width="8" fill="none"/></g></g></svg></div>
<div class="info" style="left:103px;top:392px;width:161px;height:95px;"><div class="l1">4030 / <span class="a1">A1</span></div><div class="nm"><a>森高　　一真</a></div><div class="l3">香川/香川</div><div class="l4">47歳/49.5kg</div></div>
<div class="st" style="left:265px;top:392px;width:53px;height:95px;padding-top:11px;">F0<br>L0<br>0.14</div>
<div class="st" style="left:319px;top:392px;width:53px;height:95px;padding-top:11px;">6.23<br>33.04<br>51.30</div>
<div class="st" style="left:373px;top:392px;width:53px;height:95px;padding-top:11px;">7.67<br>44.44<br>66.67</div>
<div class="st" style="left:427px;top:392px;width:59px;height:95px;padding-top:11px;">18<br>35.94<br>45.31</div>
<div class="st" style="left:487px;top:392px;width:53px;height:95px;padding-top:11px;">61<br>31.75<br>49.21</div>
<div style="left:102px;top:392px;width:1px;height:95px;background:#d5dae3;"></div>
<div style="left:264px;top:392px;width:1px;height:95px;background:#d5dae3;"></div>
<div style="left:318px;top:392px;width:1px;height:95px;background:#d5dae3;"></div>
<div style="left:372px;top:392px;width:1px;height:95px;background:#d5dae3;"></div>
<div style="left:426px;top:392px;width:1px;height:95px;background:#d5dae3;"></div>
<div style="left:486px;top:392px;width:1px;height:95px;background:#d5dae3;"></div>
<div style="left:34px;top:392px;width:1px;height:95px;background:#dbe6f4;"></div>
<div style="left:918px;top:392px;width:58px;height:95px;background:#cbcbcb;"></div>
<div style="left:570px;top:415px;width:406px;height:1px;background:#d4d4d4;"></div>
<div style="left:570px;top:439px;width:406px;height:1px;background:#d4d4d4;"></div>
<div style="left:570px;top:463px;width:406px;height:1px;background:#d4d4d4;"></div>
<div style="left:598px;top:392px;width:1px;height:95px;background:#d4d4d4;"></div>
<div style="left:627px;top:392px;width:1px;height:95px;background:#d4d4d4;"></div>
<div style="left:656px;top:392px;width:1px;height:95px;background:#d4d4d4;"></div>
<div style="left:685px;top:392px;width:1px;height:95px;background:#d4d4d4;"></div>
<div style="left:714px;top:392px;width:1px;height:95px;background:#d4d4d4;"></div>
<div style="left:743px;top:392px;width:1px;height:95px;background:#d4d4d4;"></div>
<div style="left:772px;top:392px;width:1px;height:95px;background:#d4d4d4;"></div>
<div style="left:801px;top:392px;width:1px;height:95px;background:#d4d4d4;"></div>
<div style="left:830px;top:392px;width:1px;height:95px;background:#d4d4d4;"></div>
<div style="left:859px;top:392px;width:1px;height:95px;background:#d4d4d4;"></div>
<div style="left:888px;top:392px;width:1px;height:95px;background:#d4d4d4;"></div>
<div style="left:917px;top:392px;width:1px;height:95px;background:#d4d4d4;"></div>
<div style="left:946px;top:392px;width:1px;height:95px;background:#d4d4d4;"></div>
<div style="left:975px;top:392px;width:1px;height:95px;background:#d4d4d4;"></div>
<div class="c rn" style="left:570px;top:392px;width:28px;height:23px;background:#4082d3;color:#fff;"><span class="w">7</span></div>
<div class="c dv" style="left:570px;top:416px;width:28px;height:23px;">4</div>
<div class="c dv" style="left:570px;top:440px;width:28px;height:23px;">.04</div>
<div class="c rs" style="left:570px;top:464px;width:28px;height:23px;"><a class="w">&nbsp;5&nbsp;</a></div>
<div class="c rn" style="left:628px;top:392px;width:28px;height:23px;background:#52b44c;color:#fff;"><span class="w">5</span></div>
<div class="c dv" style="left:628px;top:416px;width:28px;height:23px;">6</div>
<div class="c dv" style="left:628px;top:440px;width:28px;height:23px;">.13</div>
<div class="c rs" style="left:628px;top:464px;width:28px;height:23px;"><a class="w">&nbsp;4&nbsp;</a></div>
<div class="c rn" style="left:686px;top:392px;width:28px;height:23px;background:#ee4043;color:#fff;"><span class="w">1</span></div>
<div class="c dv" style="left:686px;top:416px;width:28px;height:23px;">3</div>
<div class="c dv" style="left:686px;top:440px;width:28px;height:23px;">.12</div>
<div class="c rs" style="left:686px;top:464px;width:28px;height:23px;"><a class="w">&nbsp;1&nbsp;</a></div>
<div class="c rn" style="left:715px;top:392px;width:28px;height:23px;background:#ededed;color:#111;"><span class="w">10</span></div>
<div class="c dv" style="left:715px;top:416px;width:28px;height:23px;">1</div>
<div class="c dv" style="left:715px;top:440px;width:28px;height:23px;">.11</div>
<div class="c rs" style="left:715px;top:464px;width:28px;height:23px;"><a class="w">&nbsp;6&nbsp;</a></div>
<div style="left:9px;top:487px;width:532px;height:1px;background:#17437c;"></div>
<div style="left:569px;top:487px;width:458px;height:1px;background:#17437c;"></div>
<div style="left:9px;top:488px;width:532px;height:95px;background:#fff;"></div>
<div style="left:569px;top:488px;width:458px;height:95px;background:#fff;"></div>
<div class="c" style="left:9px;top:488px;width:25px;height:95px;background:#efe455;color:#111;font-weight:bold;font-size:14px;line-height:95px;"><span class="w">5</span></div>
<div style="left:35px;top:488px;width:67px;height:95px;"><svg width="67" height="95" viewBox="0 0 67 95"><defs><linearGradient id="bg4" x1="0" y1="0" x2="1" y2="0.3"><stop offset="0" stop-color="#a3c3ea"/><stop offset="1" stop-color="#b5d0f1"/></linearGradient><linearGradient id="jk4" x1="0" y1="0" x2="1" y2="1"><stop offset="0" stop-color="#f7f8fb"/><stop offset=".6" stop-color="#eef0f5"/><stop offset="1" stop-color="#dfe3ec"/></linearGradient><linearGradient id="fc4" x1="0" y1="0" x2="1" y2="0.25"><stop offset="0" stop-color="#eec3ab"/><stop offset=".55" stop-color="#eec3ab"/><stop offset="1" stop-color="#dba68c"/></linearGradient><filter id="bl4" x="-5%" y="-5%" width="110%" height="110%"><feGaussianBlur stdDeviation="3.4"/></filter><filter id="bs4" x="-20%" y="-20%" width="140%" height="140%"><feGaussianBlur stdDeviation="9"/></filter></defs><rect width="67" height="95" fill="url(#bg4)"/><g transform="translate(-1,-1) scale(0.14265)"><g filter="url(#bl4)"><polygon points="180,350 320,340 332,382 200,432 148,402" fill="#dba68c"/><path d="M0,530 C50,500 100,450 135,420 L140,383 L170,417 L330,370 L346,338 L366,400 C420,430 470,470 491,510 L491,687 L0,687 Z" fill="url(#jk4)"/></g><g filter="url(#bs4)" opacity=".55"><path d="M186,432 L316,392 L341,482 L226,542 Z" fill="#bcc3d3"/><path d="M156,462 L206,482 L186,687 L116,687 Z" fill="#c6ccda"/></g><g filter="url(#bl4)"><path d="M316,462 q60,40 90,110" stroke="#9aa1b2" stroke-width="5" fill="none" opacity=".8"/><path d="M10,547 q60,-10 110,-60" stroke="#aab0c0" stroke-width="4" fill="none" opacity=".7"/><path d="M166,422 C196,500 166,600 155,687" stroke="#39424f" stroke-width="13" fill="none" stroke-linecap="round"/><path d="M130,227 C130,71 340,71 340,227 C340,361 298,402 235,402 C172,402 130,361 130,227 Z" fill="url(#fc4)"/><path d="M100,202 C94,100 170,38 260,42 C352,44 407,110 399,220 C396,282 380,322 350,342 L345,252 C330,200 300,155 250,120 C200,135 150,175 136,252 L110,247 Z" fill="#2a2321"/><path d="M100,215 C94,110 165,45 245,44 C220,110 165,155 140,252 L110,247 Z" fill="#c9a674"/><path d="M250,48 C310,50 352,100 360,170 C365,205 362,240 352,275 C338,205 302,150 250,120 Z" fill="#bf9a6a"/><path d="M236,44 C295,36 350,70 366,135 C335,100 295,86 248,92 Z" fill="#2d2522"/><ellipse cx="172" cy="238" rx="17" ry="5.5" fill="#2a1d18" opacity=".9"/><path d="M148,219 Q172,210 196,219" stroke="#3a2a22" stroke-width="7" fill="none" opacity=".7"/><ellipse cx="265" cy="237" rx="17" ry="5.5" fill="#2a1d18" opacity=".9"/><path d="M241,218 Q265,209 289,218" stroke="#3a2a22" stroke-width="7" fill="none" opacity=".7"/><path d="M182,337 Q212,345 246,335" stroke="#b2604f" stroke-width="8" fill="none" opacity=".9"/><path d="M204,289 q-6,14 10,16" stroke="#dba68c" stroke-width="8" fill="none"/></g></g></svg></div>
<div class="info" style="left:103px;top:488px;width:161px;height:95px;"><div class="l1">4826 / <span class="a1">A1</span></div><div class="nm"><a>井上　　一輝</a></div><div class="l3">大阪/大阪</div><div class="l4">31歳/52.2kg</div></div>
<div class="st" style="left:265px;top:488px;width:53px;height:95px;padding-top:11px;">F0<br>L0<br>0.13</div>
<div class="st" style="left:319px;top:488px;width:53px;height:95px;padding-top:11px;">6.90<br>52.03<br>65.04</div>
<div class="st" style="left:373px;top:488px;width:53px;height:95px;padding-top:11px;">6.10<br>40.00<br>50.00</div>
<div class="st" style="left:427px;top:488px;width:59px;height:95px;padding-top:11px;">54<br>32.81<br>53.13</div>
<div class="st" style="left:487px;top:488px;width:53px;height:95px;padding-top:11px;">70<br>34.38<br>50.00</div>
<div style="left:102px;top:488px;width:1px;height:95px;background:#d5dae3;"></div>
<div style="left:264px;top:488px;width:1px;height:95px;background:#d5dae3;"></div>
<div style="left:318px;top:488px;width:1px;height:95px;background:#d5dae3;"></div>
<div style="left:372px;top:488px;width:1px;height:95px;background:#d5dae3;"></div>
<div style="left:426px;top:488px;width:1px;height:95px;background:#d5dae3;"></div>
<div style="left:486px;top:488px;width:1px;height:95px;background:#d5dae3;"></div>
<div style="left:34px;top:488px;width:1px;height:95px;background:#dbe6f4;"></div>
<div style="left:918px;top:488px;width:58px;height:95px;background:#cbcbcb;"></div>
<div style="left:570px;top:511px;width:406px;height:1px;background:#d4d4d4;"></div>
<div style="left:570px;top:535px;width:406px;height:1px;background:#d4d4d4;"></div>
<div style="left:570px;top:559px;width:406px;height:1px;background:#d4d4d4;"></div>
<div style="left:598px;top:488px;width:1px;height:95px;background:#d4d4d4;"></div>
<div style="left:627px;top:488px;width:1px;height:95px;background:#d4d4d4;"></div>
<div style="left:656px;top:488px;width:1px;height:95px;background:#d4d4d4;"></div>
<div style="left:685px;top:488px;width:1px;height:95px;background:#d4d4d4;"></div>
<div style="left:714px;top:488px;width:1px;height:95px;background:#d4d4d4;"></div>
<div style="left:743px;top:488px;width:1px;height:95px;background:#d4d4d4;"></div>
<div style="left:772px;top:488px;width:1px;height:95px;background:#d4d4d4;"></div>
<div style="left:801px;top:488px;width:1px;height:95px;background:#d4d4d4;"></div>
<div style="left:830px;top:488px;width:1px;height:95px;background:#d4d4d4;"></div>
<div style="left:859px;top:488px;width:1px;height:95px;background:#d4d4d4;"></div>
<div style="left:888px;top:488px;width:1px;height:95px;background:#d4d4d4;"></div>
<div style="left:917px;top:488px;width:1px;height:95px;background:#d4d4d4;"></div>
<div style="left:946px;top:488px;width:1px;height:95px;background:#d4d4d4;"></div>
<div style="left:975px;top:488px;width:1px;height:95px;background:#d4d4d4;"></div>
<div class="c rn" style="left:570px;top:488px;width:28px;height:23px;background:#4082d3;color:#fff;"><span class="w">1</span></div>
<div class="c dv" style="left:570px;top:512px;width:28px;height:23px;">4</div>
<div class="c dv" style="left:570px;top:536px;width:28px;height:23px;">.15</div>
<div class="c rs" style="left:570px;top:560px;width:28px;height:23px;"><a class="w">&nbsp;1&nbsp;</a></div>
<div class="c rn" style="left:599px;top:488px;width:28px;height:23px;background:#ededed;color:#111;"><span class="w">8</span></div>
<div class="c dv" style="left:599px;top:512px;width:28px;height:23px;">1</div>
<div class="c dv" style="left:599px;top:536px;width:28px;height:23px;">.12</div>
<div class="c rs" style="left:599px;top:560px;width:28px;height:23px;"><a class="w">&nbsp;4&nbsp;</a></div>
<div class="c rn" style="left:628px;top:488px;width:28px;height:23px;background:#4b4b4b;color:#fff;"><span class="w">5</span></div>
<div class="c dv" style="left:628px;top:512px;width:28px;height:23px;">2</div>
<div class="c dv" style="left:628px;top:536px;width:28px;height:23px;">.13</div>
<div class="c rs" style="left:628px;top:560px;width:28px;height:23px;"><a class="w">&nbsp;3&nbsp;</a></div>
<div class="c rn" style="left:686px;top:488px;width:28px;height:23px;background:#ee4043;color:#fff;"><span class="w">7</span></div>
<div class="c dv" style="left:686px;top:512px;width:28px;height:23px;">3</div>
<div class="c dv" style="left:686px;top:536px;width:28px;height:23px;">.11</div>
<div class="c rs" style="left:686px;top:560px;width:28px;height:23px;"><a class="w">&nbsp;5&nbsp;</a></div>
<div class="c hy" style="left:986px;top:520px;width:30px;height:30px;background:#52b44c;"><a class="w">2R</a></div>
<div style="left:9px;top:583px;width:532px;height:1px;background:#17437c;"></div>
<div style="left:569px;top:583px;width:458px;height:1px;background:#17437c;"></div>
<div style="left:9px;top:584px;width:532px;height:95px;background:#f3f7fc;"></div>
<div style="left:569px;top:584px;width:458px;height:95px;background:#f3f7fc;"></div>
<div class="c" style="left:9px;top:584px;width:25px;height:95px;background:#52b44c;color:#fff;font-weight:bold;font-size:14px;line-height:95px;"><span class="w">6</span></div>
<div style="left:35px;top:584px;width:67px;height:95px;"><svg width="67" height="95" viewBox="0 0 67 95"><defs><linearGradient id="bg5" x1="0" y1="0" x2="1" y2="0.3"><stop offset="0" stop-color="#a3c3ea"/><stop offset="1" stop-color="#b5d0f1"/></linearGradient><linearGradient id="jk5" x1="0" y1="0" x2="1" y2="1"><stop offset="0" stop-color="#f7f8fb"/><stop offset=".6" stop-color="#eef0f5"/><stop offset="1" stop-color="#dfe3ec"/></linearGradient><linearGradient id="fc5" x1="0" y1="0" x2="1" y2="0.25"><stop offset="0" stop-color="#e5b99b"/><stop offset=".55" stop-color="#e5b99b"/><stop offset="1" stop-color="#cf9f80"/></linearGradient><filter id="bl5" x="-5%" y="-5%" width="110%" height="110%"><feGaussianBlur stdDeviation="3.4"/></filter><filter id="bs5" x="-20%" y="-20%" width="140%" height="140%"><feGaussianBlur stdDeviation="9"/></filter></defs><rect width="67" height="95" fill="url(#bg5)"/><g transform="translate(-1,-1) scale(0.14265)"><g filter="url(#bl5)"><polygon points="170,380 332,380 337,422 220,452 158,422" fill="#cf9f80"/><path d="M0,520 C50,490 90,450 130,420 L130,388 L170,437 L330,390 L351,358 L366,400 C420,420 470,450 491,480 L491,687 L0,687 Z" fill="url(#jk5)"/></g><g filter="url(#bs5)" opacity=".55"><path d="M190,452 L320,412 L345,502 L230,562 Z" fill="#bcc3d3"/><path d="M160,482 L210,502 L190,687 L120,687 Z" fill="#c6ccda"/></g><g filter="url(#bl5)"><path d="M320,482 q60,40 90,110" stroke="#9aa1b2" stroke-width="5" fill="none" opacity=".8"/><path d="M10,567 q60,-10 110,-60" stroke="#aab0c0" stroke-width="4" fill="none" opacity=".7"/><path d="M170,442 C216,520 201,600 175,687" stroke="#39424f" stroke-width="13" fill="none" stroke-linecap="round"/><ellipse cx="117" cy="268" rx="15" ry="30" fill="#cf9f80"/><ellipse cx="379" cy="265" rx="15" ry="30" fill="#cf9f80"/><path d="M123,234 C123,74 367,74 367,234 C367,372 318,414 245,414 C172,414 123,372 123,234 Z" fill="url(#fc5)"/><path d="M122,238 C104,120 160,40 255,34 C347,38 402,110 381,238 L366,234 C363,185 342,142 310,124 C260,110 190,114 160,134 C142,165 138,200 135,240 Z" fill="#1f1c1b"/><ellipse cx="181" cy="231" rx="17" ry="5.5" fill="#2a1d18" opacity=".9"/><path d="M157,212 Q181,203 205,212" stroke="#3a2a22" stroke-width="7" fill="none" opacity=".7"/><ellipse cx="288" cy="231" rx="17" ry="5.5" fill="#2a1d18" opacity=".9"/><path d="M264,212 Q288,203 312,212" stroke="#3a2a22" stroke-width="7" fill="none" opacity=".7"/><path d="M197,342 Q227,350 261,340" stroke="#b2604f" stroke-width="8" fill="none" opacity=".9"/><path d="M219,294 q-6,14 10,16" stroke="#cf9f80" stroke-width="8" fill="none"/></g></g></svg></div>
<div class="info" style="left:103px;top:584px;width:161px;height:95px;"><div class="l1">4418 / <span class="a1">A1</span></div><div class="nm"><a>茅原　　悠紀</a></div><div class="l3">岡山/岡山</div><div class="l4">38歳/53.7kg</div></div>
<div class="st" style="left:265px;top:584px;width:53px;height:95px;padding-top:11px;">F1<br>L0<br>0.12</div>
<div class="st" style="left:319px;top:584px;width:53px;height:95px;padding-top:11px;">8.22<br>56.47<br>80.00</div>
<div class="st" style="left:373px;top:584px;width:53px;height:95px;padding-top:11px;">8.36<br>75.47<br>90.57</div>
<div class="st" style="left:427px;top:584px;width:59px;height:95px;padding-top:11px;">58<br>41.27<br>57.14</div>
<div class="st" style="left:487px;top:584px;width:53px;height:95px;padding-top:11px;">49<br>42.37<br>57.63</div>
<div style="left:102px;top:584px;width:1px;height:95px;background:#d5dae3;"></div>
<div style="left:264px;top:584px;width:1px;height:95px;background:#d5dae3;"></div>
<div style="left:318px;top:584px;width:1px;height:95px;background:#d5dae3;"></div>
<div style="left:372px;top:584px;width:1px;height:95px;background:#d5dae3;"></div>
<div style="left:426px;top:584px;width:1px;height:95px;background:#d5dae3;"></div>
<div style="left:486px;top:584px;width:1px;height:95px;background:#d5dae3;"></div>
<div style="left:34px;top:584px;width:1px;height:95px;background:#dbe6f4;"></div>
<div style="left:918px;top:584px;width:58px;height:95px;background:#cbcbcb;"></div>
<div style="left:570px;top:607px;width:406px;height:1px;background:#d4d4d4;"></div>
<div style="left:570px;top:631px;width:406px;height:1px;background:#d4d4d4;"></div>
<div style="left:570px;top:655px;width:406px;height:1px;background:#d4d4d4;"></div>
<div style="left:598px;top:584px;width:1px;height:95px;background:#d4d4d4;"></div>
<div style="left:627px;top:584px;width:1px;height:95px;background:#d4d4d4;"></div>
<div style="left:656px;top:584px;width:1px;height:95px;background:#d4d4d4;"></div>
<div style="left:685px;top:584px;width:1px;height:95px;background:#d4d4d4;"></div>
<div style="left:714px;top:584px;width:1px;height:95px;background:#d4d4d4;"></div>
<div style="left:743px;top:584px;width:1px;height:95px;background:#d4d4d4;"></div>
<div style="left:772px;top:584px;width:1px;height:95px;background:#d4d4d4;"></div>
<div style="left:801px;top:584px;width:1px;height:95px;background:#d4d4d4;"></div>
<div style="left:830px;top:584px;width:1px;height:95px;background:#d4d4d4;"></div>
<div style="left:859px;top:584px;width:1px;height:95px;background:#d4d4d4;"></div>
<div style="left:888px;top:584px;width:1px;height:95px;background:#d4d4d4;"></div>
<div style="left:917px;top:584px;width:1px;height:95px;background:#d4d4d4;"></div>
<div style="left:946px;top:584px;width:1px;height:95px;background:#d4d4d4;"></div>
<div style="left:975px;top:584px;width:1px;height:95px;background:#d4d4d4;"></div>
<div class="c rn" style="left:570px;top:584px;width:28px;height:23px;background:#ededed;color:#111;"><span class="w">12</span></div>
<div class="c dv" style="left:570px;top:608px;width:28px;height:23px;">1</div>
<div class="c dv" style="left:570px;top:632px;width:28px;height:23px;">.09</div>
<div class="c rs" style="left:570px;top:656px;width:28px;height:23px;"><a class="w">&nbsp;1&nbsp;</a></div>
<div class="c rn" style="left:628px;top:584px;width:28px;height:23px;background:#efe455;color:#111;"><span class="w">5</span></div>
<div class="c dv" style="left:628px;top:608px;width:28px;height:23px;">5</div>
<div class="c dv" style="left:628px;top:632px;width:28px;height:23px;">.09</div>
<div class="c rs" style="left:628px;top:656px;width:28px;height:23px;"><a class="w">&nbsp;5&nbsp;</a></div>
<div class="c rn" style="left:657px;top:584px;width:28px;height:23px;background:#4b4b4b;color:#fff;"><span class="w">10</span></div>
<div class="c dv" style="left:657px;top:608px;width:28px;height:23px;">2</div>
<div class="c dv" style="left:657px;top:632px;width:28px;height:23px;">.16</div>
<div class="c rs" style="left:657px;top:656px;width:28px;height:23px;"><a class="w">&nbsp;2&nbsp;</a></div>
<div class="c rn" style="left:686px;top:584px;width:28px;height:23px;background:#ee4043;color:#fff;"><span class="w">6</span></div>
<div class="c dv" style="left:686px;top:608px;width:28px;height:23px;">3</div>
<div class="c dv" style="left:686px;top:632px;width:28px;height:23px;">.15</div>
<div class="c rs" style="left:686px;top:656px;width:28px;height:23px;"><a class="w">&nbsp;4&nbsp;</a></div>
<div class="c rn" style="left:715px;top:584px;width:28px;height:23px;background:#4082d3;color:#fff;"><span class="w">12</span></div>
<div class="c dv" style="left:715px;top:608px;width:28px;height:23px;">4</div>
<div class="c dv" style="left:715px;top:632px;width:28px;height:23px;">.03</div>
<div class="c rs" style="left:715px;top:656px;width:28px;height:23px;"><a class="w">&nbsp;1&nbsp;</a></div>
<div style="left:8px;top:5px;width:1020px;height:1px;background:#0c3a80;"></div>
<div style="left:8px;top:679px;width:1020px;height:1px;background:#17437c;"></div>
<div style="left:8px;top:5px;width:1px;height:675px;background:#123e7a;"></div>
<div style="left:1027px;top:5px;width:1px;height:675px;background:#123e7a;"></div>
</div></body></html>
